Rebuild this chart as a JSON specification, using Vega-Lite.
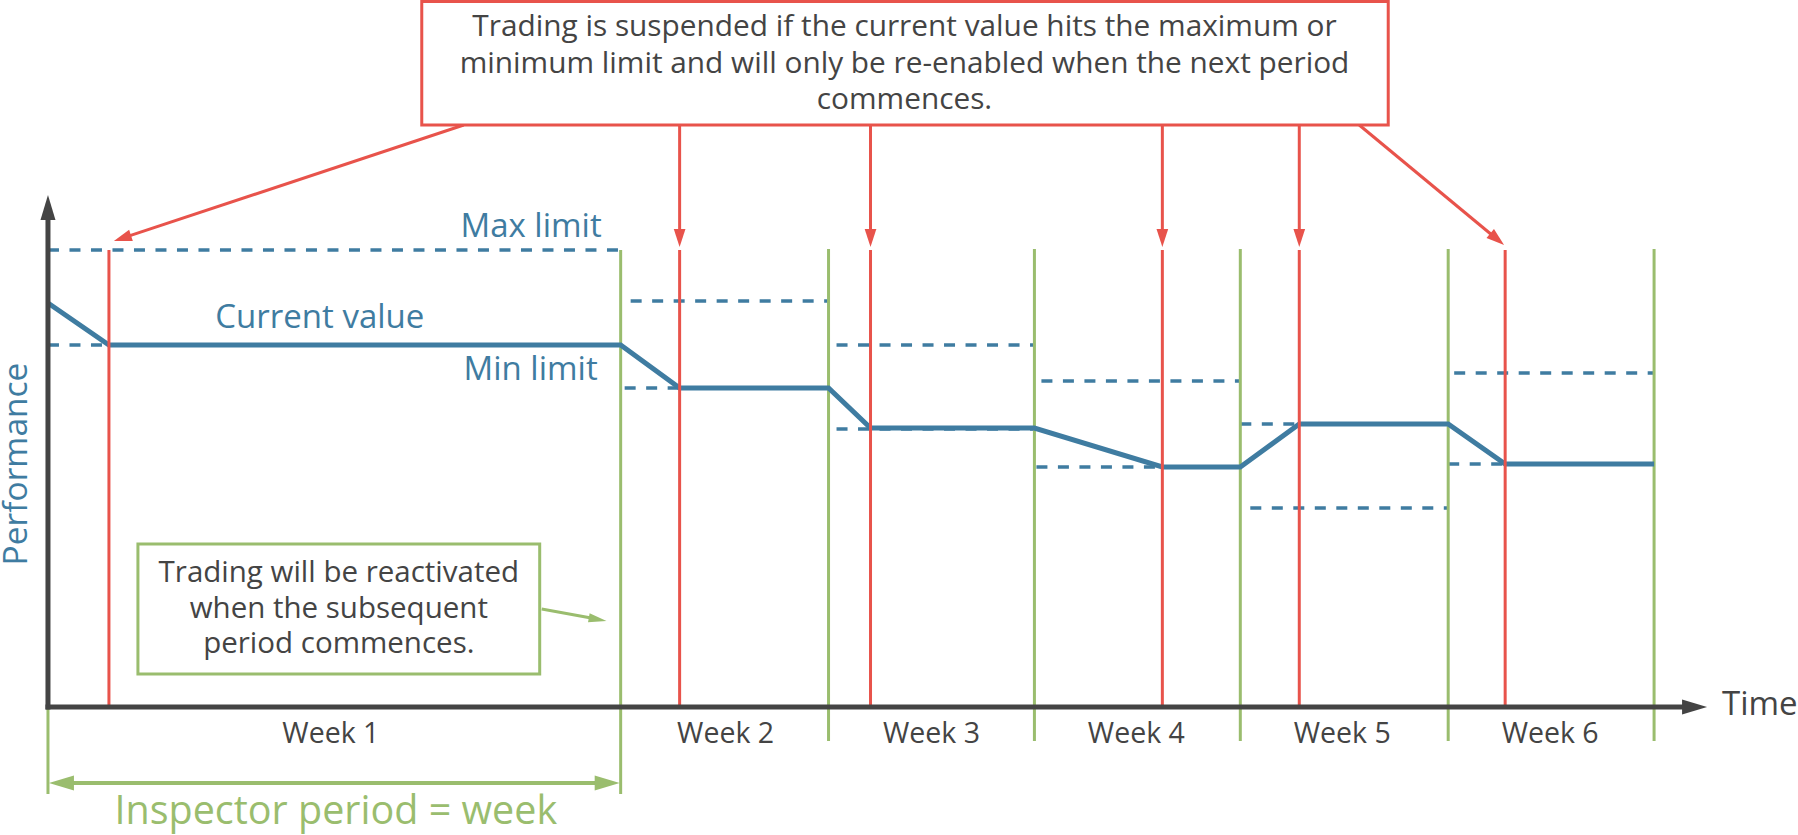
{
  "$schema": "https://vega.github.io/schema/vega-lite/v6.json",
  "width": 1798,
  "height": 835,
  "padding": 0,
  "autosize": {"type": "fit", "contains": "padding"},
  "background": "white",
  "config": {"view": {"stroke": null}, "text": {"font": "Open Sans"}},
  "datasets": {
    "limits": [
      {"week": 1, "bound": "max", "t": 0, "t2": 573, "v": 457},
      {"week": 1, "bound": "min", "t": 0, "t2": 573, "v": 362},
      {"week": 2, "bound": "max", "t": 583, "t2": 781, "v": 406},
      {"week": 2, "bound": "min", "t": 577, "t2": 781, "v": 319},
      {"week": 3, "bound": "max", "t": 789, "t2": 987, "v": 362},
      {"week": 3, "bound": "min", "t": 789, "t2": 987, "v": 278},
      {"week": 4, "bound": "max", "t": 994, "t2": 1193, "v": 326},
      {"week": 4, "bound": "min", "t": 989, "t2": 1193, "v": 240},
      {"week": 5, "bound": "max", "t": 1193, "t2": 1401, "v": 283},
      {"week": 5, "bound": "min", "t": 1203, "t2": 1401, "v": 199},
      {"week": 6, "bound": "max", "t": 1407, "t2": 1607, "v": 334},
      {"week": 6, "bound": "min", "t": 1401, "t2": 1607, "v": 243}
    ],
    "current": [
      {"t": 0, "v": 404}, {"t": 61, "v": 362}, {"t": 573, "v": 362},
      {"t": 632, "v": 319}, {"t": 781, "v": 319}, {"t": 823, "v": 279},
      {"t": 987, "v": 279}, {"t": 1115, "v": 240}, {"t": 1193, "v": 240},
      {"t": 1252, "v": 283}, {"t": 1401, "v": 283}, {"t": 1458, "v": 243},
      {"t": 1607, "v": 243}
    ],
    "periods": [
      {"t": 0, "v": 0, "v2": -87},
      {"t": 573, "v": 457, "v2": -87},
      {"t": 781, "v": 458, "v2": -34},
      {"t": 987, "v": 458, "v2": -34},
      {"t": 1193, "v": 458, "v2": -34},
      {"t": 1401, "v": 458, "v2": -34},
      {"t": 1607, "v": 458, "v2": -34}
    ],
    "suspensions": [
      {"t": 61, "v": 457, "v2": 0},
      {"t": 632, "v": 457, "v2": 0},
      {"t": 823, "v": 457, "v2": 0},
      {"t": 1115, "v": 457, "v2": 0},
      {"t": 1252, "v": 457, "v2": 0},
      {"t": 1458, "v": 457, "v2": 0}
    ],
    "pointers": [
      {"t": 632, "v": 582, "t2": 632, "v2": 472},
      {"t": 823, "v": 582, "t2": 823, "v2": 472},
      {"t": 1115, "v": 582, "t2": 1115, "v2": 472},
      {"t": 1252, "v": 582, "t2": 1252, "v2": 472},
      {"t": 416, "v": 582, "t2": 76, "v2": 469.3},
      {"t": 1312, "v": 582, "t2": 1449, "v2": 468.5}
    ],
    "axes": [
      {"t": 0, "v": -2.5, "t2": 0, "v2": 492},
      {"t": -2.5, "v": 0, "t2": 1648, "v2": 0}
    ],
    "notePointer": [
      {"t": 494, "v": 98, "t2": 549, "v2": 88}
    ],
    "span": [
      {"t": 10, "v": -76, "t2": 563, "v2": -76}
    ],
    "heads": [
      {"kind": "pointer-down", "t": 632, "v": 469},
      {"kind": "pointer-down", "t": 823, "v": 469},
      {"kind": "pointer-down", "t": 1115, "v": 469},
      {"kind": "pointer-down", "t": 1252, "v": 469},
      {"kind": "pointer-left", "t": 74.5, "v": 468.8},
      {"kind": "pointer-right", "t": 1450, "v": 467.7},
      {"kind": "note", "t": 550, "v": 87.6},
      {"kind": "axis-up", "t": 0, "v": 499.5},
      {"kind": "axis-right", "t": 1647.5, "v": 0},
      {"kind": "span-left", "t": 13.5, "v": -76},
      {"kind": "span-right", "t": 559.5, "v": -76}
    ],
    "boxes": [
      {"kind": "rule-note", "t": 374, "t2": 1341, "v": 705.5, "v2": 582},
      {"kind": "reactivation-note", "t": 90, "t2": 492, "v": 163, "v2": 33}
    ],
    "labels": [
      {"role": "limit", "label": "Max limit", "t": 554, "v": 470},
      {"role": "limit", "label": "Min limit", "t": 550, "v": 327},
      {"role": "series", "label": "Current value", "t": 272, "v": 379},
      {"role": "yaxis", "label": "Performance", "t": -20.5, "v": 243},
      {"role": "xaxis", "label": "Time", "t": 1675, "v": -8},
      {"role": "week", "label": "Week 1", "t": 283, "v": -36},
      {"role": "week", "label": "Week 2", "t": 678, "v": -36},
      {"role": "week", "label": "Week 3", "t": 884, "v": -36},
      {"role": "week", "label": "Week 4", "t": 1089, "v": -36},
      {"role": "week", "label": "Week 5", "t": 1295, "v": -36},
      {"role": "week", "label": "Week 6", "t": 1503, "v": -36},
      {"role": "period", "label": "Inspector period = week", "t": 288, "v": -116.5},
      {"role": "rule-note", "label": "Trading is suspended if the current value hits the maximum or\nminimum limit and will only be re-enabled when the next period\ncommences.", "t": 857, "v": 671},
      {"role": "reactivation-note", "label": "Trading will be reactivated\nwhen the subsequent\nperiod commences.", "t": 291, "v": 125}
    ]
  },
  "encoding": {
    "x": {"field": "t", "type": "quantitative", "scale": {"domain": [-48, 1750], "nice": false, "zero": false}, "axis": null},
    "y": {"field": "v", "type": "quantitative", "scale": {"domain": [-128, 707], "nice": false, "zero": false}, "axis": null}
  },
  "layer": [
    {
      "data": {"name": "limits"},
      "mark": {"type": "rule", "color": "#3f7ca1", "strokeWidth": 3.5, "strokeDash": [11, 10.5]},
      "encoding": {"x2": {"field": "t2"}}
    },
    {
      "data": {"name": "periods"},
      "mark": {"type": "rule", "color": "#9abd6e", "strokeWidth": 3},
      "encoding": {"y2": {"field": "v2"}}
    },
    {
      "data": {"name": "current"},
      "mark": {"type": "line", "color": "#3f7ca1", "strokeWidth": 5, "strokeJoin": "miter"},
      "encoding": {}
    },
    {
      "data": {"name": "suspensions"},
      "mark": {"type": "rule", "color": "#e8534b", "strokeWidth": 3},
      "encoding": {"y2": {"field": "v2"}}
    },
    {
      "data": {"name": "pointers"},
      "mark": {"type": "rule", "color": "#e8534b", "strokeWidth": 3},
      "encoding": {"x2": {"field": "t2"}, "y2": {"field": "v2"}}
    },
    {
      "data": {"name": "axes"},
      "mark": {"type": "rule", "color": "#444444", "strokeWidth": 5},
      "encoding": {"x2": {"field": "t2"}, "y2": {"field": "v2"}}
    },
    {
      "data": {"name": "span"},
      "mark": {"type": "rule", "color": "#9abd6e", "strokeWidth": 4},
      "encoding": {"x2": {"field": "t2"}, "y2": {"field": "v2"}}
    },
    {
      "data": {"name": "boxes"},
      "transform": [{"filter": "datum.kind === 'rule-note'"}],
      "mark": {"type": "rect", "fill": "white", "stroke": "#e8534b", "strokeWidth": 3},
      "encoding": {"x2": {"field": "t2"}, "y2": {"field": "v2"}}
    },
    {
      "data": {"name": "boxes"},
      "transform": [{"filter": "datum.kind === 'reactivation-note'"}],
      "mark": {"type": "rect", "fill": "white", "stroke": "#9abd6e", "strokeWidth": 3},
      "encoding": {"x2": {"field": "t2"}, "y2": {"field": "v2"}}
    },
    {
      "data": {"name": "notePointer"},
      "mark": {"type": "rule", "color": "#9abd6e", "strokeWidth": 3},
      "encoding": {"x2": {"field": "t2"}, "y2": {"field": "v2"}}
    },
    {
      "data": {"name": "heads"},
      "transform": [{"filter": "datum.kind === 'pointer-down'"}],
      "mark": {"type": "point", "shape": "M0,-1L0.65,1L-0.65,1Z", "filled": true, "opacity": 1, "color": "#e8534b", "size": 324, "angle": 180},
      "encoding": {}
    },
    {
      "data": {"name": "heads"},
      "transform": [{"filter": "datum.kind === 'pointer-left'"}],
      "mark": {"type": "point", "shape": "M0,-1L0.65,1L-0.65,1Z", "filled": true, "opacity": 1, "color": "#e8534b", "size": 324, "angle": 251.7},
      "encoding": {}
    },
    {
      "data": {"name": "heads"},
      "transform": [{"filter": "datum.kind === 'pointer-right'"}],
      "mark": {"type": "point", "shape": "M0,-1L0.65,1L-0.65,1Z", "filled": true, "opacity": 1, "color": "#e8534b", "size": 324, "angle": 129.6},
      "encoding": {}
    },
    {
      "data": {"name": "heads"},
      "transform": [{"filter": "datum.kind === 'note'"}],
      "mark": {"type": "point", "shape": "M0,-1L0.5,1L-0.5,1Z", "filled": true, "opacity": 1, "color": "#9abd6e", "size": 324, "angle": 100.4},
      "encoding": {}
    },
    {
      "data": {"name": "heads"},
      "transform": [{"filter": "datum.kind === 'axis-up'"}],
      "mark": {"type": "point", "shape": "M0,-1L0.6,1L-0.6,1Z", "filled": true, "opacity": 1, "color": "#444444", "size": 625, "angle": 0},
      "encoding": {}
    },
    {
      "data": {"name": "heads"},
      "transform": [{"filter": "datum.kind === 'axis-right'"}],
      "mark": {"type": "point", "shape": "M0,-1L0.6,1L-0.6,1Z", "filled": true, "opacity": 1, "color": "#444444", "size": 625, "angle": 90},
      "encoding": {}
    },
    {
      "data": {"name": "heads"},
      "transform": [{"filter": "datum.kind === 'span-left'"}],
      "mark": {"type": "point", "shape": "M0,-1L0.6,1L-0.6,1Z", "filled": true, "opacity": 1, "color": "#9abd6e", "size": 625, "angle": 270},
      "encoding": {}
    },
    {
      "data": {"name": "heads"},
      "transform": [{"filter": "datum.kind === 'span-right'"}],
      "mark": {"type": "point", "shape": "M0,-1L0.6,1L-0.6,1Z", "filled": true, "opacity": 1, "color": "#9abd6e", "size": 625, "angle": 90},
      "encoding": {}
    },
    {
      "data": {"name": "labels"},
      "transform": [{"filter": "datum.role === 'limit'"}],
      "mark": {"type": "text", "align": "right", "baseline": "alphabetic", "fontSize": 33, "color": "#3f7ca1"},
      "encoding": {"text": {"field": "label"}}
    },
    {
      "data": {"name": "labels"},
      "transform": [{"filter": "datum.role === 'series'"}],
      "mark": {"type": "text", "align": "center", "baseline": "alphabetic", "fontSize": 33, "color": "#3f7ca1"},
      "encoding": {"text": {"field": "label"}}
    },
    {
      "data": {"name": "labels"},
      "transform": [{"filter": "datum.role === 'yaxis'"}],
      "mark": {"type": "text", "align": "center", "baseline": "alphabetic", "fontSize": 33.5, "angle": 270, "color": "#3f7ca1"},
      "encoding": {"text": {"field": "label"}}
    },
    {
      "data": {"name": "labels"},
      "transform": [{"filter": "datum.role === 'xaxis'"}],
      "mark": {"type": "text", "align": "left", "baseline": "alphabetic", "fontSize": 33, "color": "#444444"},
      "encoding": {"text": {"field": "label"}}
    },
    {
      "data": {"name": "labels"},
      "transform": [{"filter": "datum.role === 'week'"}],
      "mark": {"type": "text", "align": "center", "baseline": "alphabetic", "fontSize": 28.5, "color": "#444444"},
      "encoding": {"text": {"field": "label"}}
    },
    {
      "data": {"name": "labels"},
      "transform": [{"filter": "datum.role === 'period'"}],
      "mark": {"type": "text", "align": "center", "baseline": "alphabetic", "fontSize": 39.5, "color": "#9abd6e"},
      "encoding": {"text": {"field": "label"}}
    },
    {
      "data": {"name": "labels"},
      "transform": [{"filter": "datum.role === 'rule-note'"}],
      "mark": {"type": "text", "align": "center", "baseline": "alphabetic", "fontSize": 29.8, "lineHeight": 36.5, "lineBreak": "\n", "color": "#444444"},
      "encoding": {"text": {"field": "label"}}
    },
    {
      "data": {"name": "labels"},
      "transform": [{"filter": "datum.role === 'reactivation-note'"}],
      "mark": {"type": "text", "align": "center", "baseline": "alphabetic", "fontSize": 29.5, "lineHeight": 35.5, "lineBreak": "\n", "color": "#444444"},
      "encoding": {"text": {"field": "label"}}
    }
  ]
}
